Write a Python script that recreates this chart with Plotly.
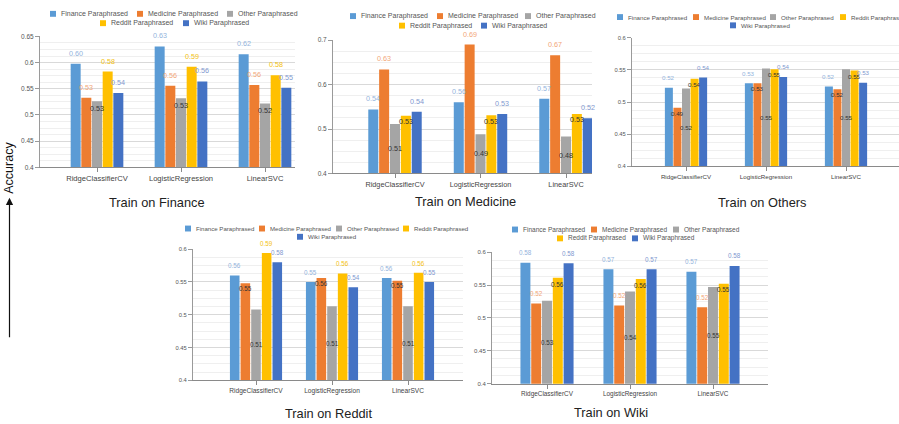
import plotly.graph_objects as go

W, H = 899, 424
FONT = "Liberation Sans, Arial, sans-serif"

categories = ["RidgeClassifierCV", "LogisticRegression", "LinearSVC"]
series_names = ["Finance Paraphrased", "Medicine Paraphrased", "Other Paraphrased",
                "Reddit Paraphrased", "Wiki Paraphrased"]

# accuracy per test set (rows: Finance, Medicine, Other, Reddit, Wiki), columns follow categories
train_finance = [
    [0.598, 0.631, 0.616],
    [0.533, 0.556, 0.557],
    [0.526, 0.532, 0.522],
    [0.583, 0.592, 0.576],
    [0.542, 0.564, 0.552],
]
train_medicine = [
    [0.544, 0.560, 0.568],
    [0.634, 0.690, 0.666],
    [0.511, 0.488, 0.483],
    [0.530, 0.531, 0.534],
    [0.539, 0.534, 0.524],
]
train_others = [
    [0.522, 0.529, 0.524],
    [0.491, 0.529, 0.520],
    [0.521, 0.552, 0.551],
    [0.536, 0.551, 0.549],
    [0.538, 0.539, 0.530],
]
train_reddit = [
    [0.560, 0.550, 0.556],
    [0.548, 0.556, 0.552],
    [0.508, 0.513, 0.513],
    [0.594, 0.563, 0.564],
    [0.580, 0.542, 0.550],
]
train_wiki = [
    [0.584, 0.574, 0.570],
    [0.522, 0.519, 0.516],
    [0.526, 0.540, 0.547],
    [0.561, 0.559, 0.552],
    [0.583, 0.574, 0.579],
]

bar_colors = ["#5b9bd5", "#ed7d31", "#a5a5a5", "#ffc000", "#4472c4"]
label_colors = ["#93b3dc", "#f2a678", "#8c8c8c", "#f4c10f", "#7f98cf"]
dark_label = "#333333"

# panel geometry in page pixels and label placement per series
panels = [
    dict(title="Train on Finance", values=train_finance,
         modes=["above", "above", "end", "above", "above"],
         xdom=(40, 295), c0=97, sp=84, ydom=(33, 166), yr=(0.4, 0.65), dtick=0.05,
         slot=0.127, barw=0.119, title_xy=(157, 202),
         fs=dict(tick=6.5, cat=7.6, leg=7.0, lab=7.2), above=10.5, end=7,
         legend=[(10, [(0, 50), (1, 137), (2, 227)]), (19.5, [(3, 100), (4, 183)])]),
    dict(title="Train on Medicine", values=train_medicine,
         modes=["above", "above", "mid", "end", "above"],
         xdom=(333, 592), c0=395, sp=85.5, ydom=(36.7, 172.3), yr=(0.4, 0.7), dtick=0.1,
         slot=0.127, barw=0.117, title_xy=(465, 201),
         fs=dict(tick=6.5, cat=7.3, leg=7.0, lab=7.2), above=10.5, end=6,
         legend=[(12.3, [(0, 350), (1, 437), (2, 525)]), (22, [(3, 399), (4, 481)])]),
    dict(title="Train on Others", values=train_others,
         modes=["above", "end", "mid", "end", "above"],
         xdom=(632, 899), c0=686, sp=80, ydom=(34.3, 165), yr=(0.4, 0.6), dtick=0.05,
         slot=0.107, barw=0.1, title_xy=(762, 202),
         fs=dict(tick=5.8, cat=6.2, leg=6.2, lab=6.2), above=10, end=5.5,
         legend=[(13.3, [(0, 617), (1, 693), (2, 770), (3, 840)]), (21.7, [(4, 730)])]),
    dict(title="Train on Reddit", values=train_reddit,
         modes=["above", "end", "mid", "above", "above"],
         xdom=(193, 463), c0=256, sp=76, ydom=(249.3, 382.7), yr=(0.4, 0.6), dtick=0.05,
         slot=0.14, barw=0.126, title_xy=(328, 416),
         fs=dict(tick=5.8, cat=6.6, leg=6.1, lab=6.3), above=9.7, end=5.3,
         legend=[(228.3, [(0, 185), (1, 259), (2, 336), (3, 403)]), (236.7, [(4, 297)])]),
    dict(title="Train on Wiki", values=train_wiki,
         modes=["above", "above", "mid", "end", "above"],
         xdom=(492, 768), c0=547, sp=83, ydom=(252.3, 386), yr=(0.4, 0.6), dtick=0.05,
         slot=0.13, barw=0.12, title_xy=(611, 415),
         fs=dict(tick=6.0, cat=6.4, leg=6.5, lab=6.3), above=10, end=6.3,
         legend=[(229.3, [(0, 512), (1, 591), (2, 673)]), (238.3, [(3, 557), (4, 632)])]),
]

fig = go.Figure()
layout = dict(width=W, height=H, margin=dict(l=0, r=0, t=0, b=0),
              paper_bgcolor="white", plot_bgcolor="white", barmode="overlay",
              showlegend=False, font=dict(family=FONT, color="#444"))
annotations = []
shapes = []

for k, P in enumerate(panels, start=1):
    sfx = "" if k == 1 else str(k)
    xa, ya = "x" + sfx, "y" + sfx
    xl, xr = P["xdom"]
    yt, yb = P["ydom"]
    lo, hi = P["yr"]
    fs = P["fs"]

    layout["xaxis" + sfx] = dict(
        domain=[xl / W, xr / W], range=[(xl - P["c0"]) / P["sp"], (xr - P["c0"]) / P["sp"]],
        tickvals=[0, 1, 2], ticktext=categories, anchor=ya, showgrid=False, zeroline=False,
        showline=True, linecolor="#8a8a8a", linewidth=1, ticks="outside", ticklen=4,
        tickcolor="#8a8a8a", tickfont=dict(size=fs["cat"], color="#444", family=FONT),
        fixedrange=True)
    layout["yaxis" + sfx] = dict(
        domain=[1 - yb / H, 1 - yt / H], range=[lo, hi + 1e-6], tick0=lo, dtick=P["dtick"],
        anchor=xa, showline=True, linecolor="#9a9a9a", linewidth=1, ticks="outside",
        ticklen=4, tickcolor="#9a9a9a", showgrid=True, gridcolor="#d9d9d9", gridwidth=1,
        minor=dict(dtick=P["dtick"] / 4, tick0=lo, showgrid=True, gridcolor="#efefef",
                   gridwidth=1),
        zeroline=False, tickfont=dict(size=fs["tick"], color="#555", family=FONT),
        fixedrange=True)

    for i, name in enumerate(series_names):
        vals = P["values"][i]
        xs = [j + (i - 2) * P["slot"] for j in range(len(categories))]
        fig.add_trace(go.Bar(x=xs, y=vals, width=P["barw"], name=name,
                             marker=dict(color=bar_colors[i], line=dict(width=0)),
                             xaxis=xa, yaxis=ya, hoverinfo="skip"))
        mode = P["modes"][i]
        for x, v in zip(xs, vals):
            if mode == "above":
                y, ysh, col = v, P["above"], label_colors[i]
            elif mode == "end":
                y, ysh, col = v, -P["end"], dark_label
            else:
                y, ysh, col = (lo + v) / 2, 0, dark_label
            annotations.append(dict(x=x, y=y, xref=xa, yref=ya, text=f"{v:.2f}",
                                    showarrow=False, yshift=ysh, xanchor="center",
                                    yanchor="middle",
                                    font=dict(size=fs["lab"], color=col, family=FONT)))

    # legend rows: colour swatch followed by series name
    sq = 6
    for row_y, items in P["legend"]:
        for idx, x0 in items:
            shapes.append(dict(type="rect", xref="paper", yref="paper",
                               x0=x0 / W, x1=(x0 + sq) / W,
                               y0=1 - (row_y + sq / 2) / H, y1=1 - (row_y - sq / 2) / H,
                               fillcolor=bar_colors[idx], line=dict(width=0)))
            annotations.append(dict(x=(x0 + sq + 3) / W, y=1 - row_y / H, xref="paper",
                                    yref="paper", text=series_names[idx], showarrow=False,
                                    xanchor="left", yanchor="middle",
                                    font=dict(size=fs["leg"], color="#555", family=FONT)))

    tx, ty = P["title_xy"]
    annotations.append(dict(x=tx / W, y=1 - ty / H, xref="paper", yref="paper",
                            text=P["title"], showarrow=False, xanchor="center",
                            yanchor="middle", font=dict(size=12.8, color="#222", family=FONT)))

# shared y label with an upward arrow
annotations.append(dict(x=9.5 / W, y=1 - 167 / H, xref="paper", yref="paper",
                        text="Accuracy", textangle=-90, showarrow=False,
                        xanchor="center", yanchor="middle",
                        font=dict(size=12.5, color="#111", family=FONT)))
annotations.append(dict(x=9.5 / W, y=1 - 197 / H, xref="paper", yref="paper", text="",
                        showarrow=True, ax=0, ay=141, axref="pixel", ayref="pixel",
                        arrowhead=2, arrowsize=1.2, arrowwidth=1.2, arrowcolor="#111"))

layout["annotations"] = annotations
layout["shapes"] = shapes
fig.update_layout(**layout)
fig.write_html("out.html", config=dict(displayModeBar=False, staticPlot=True))
